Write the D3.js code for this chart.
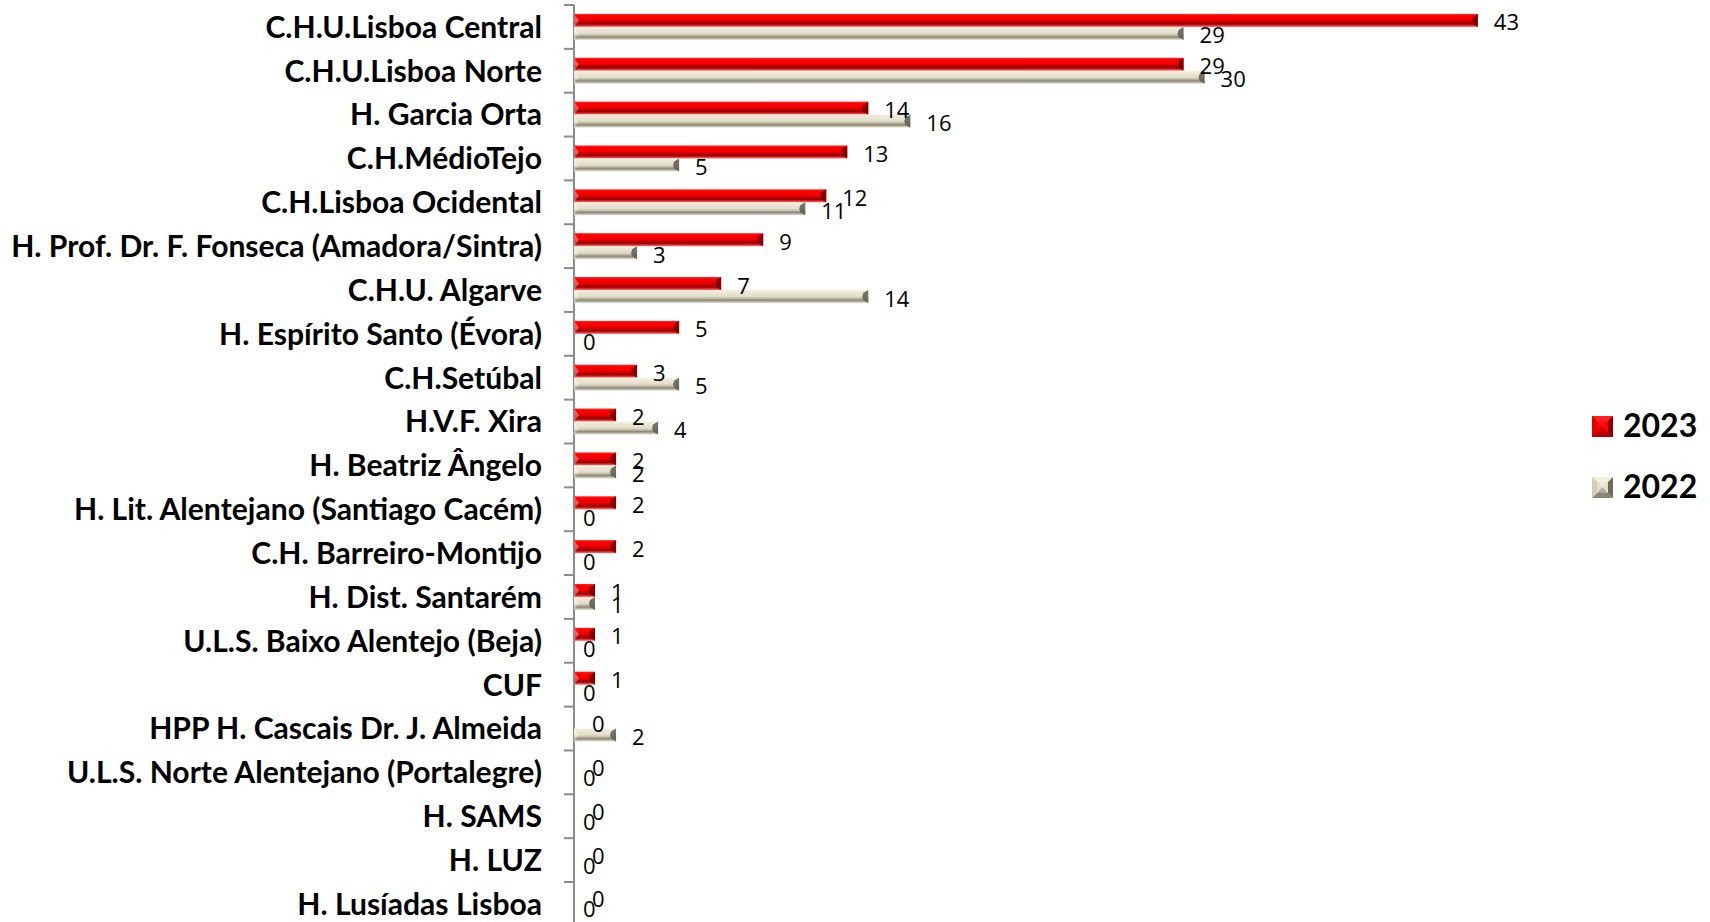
<!DOCTYPE html>
<html>
<head>
<meta charset="utf-8">
<script src="https://cdn.jsdelivr.net/npm/d3@7"></script>
<style>
  html, body { margin: 0; padding: 0; background: #fff; overflow: hidden; }
  svg { display: block; }
</style>
</head>
<body>
<svg id="chart" width="1710" height="922"></svg>
<script>
// ---- DATA ----
const categories = [
  "C.H.U.Lisboa Central",
  "C.H.U.Lisboa Norte",
  "H. Garcia Orta",
  "C.H.MédioTejo",
  "C.H.Lisboa Ocidental",
  "H. Prof. Dr. F. Fonseca (Amadora/Sintra)",
  "C.H.U. Algarve",
  "H. Espírito Santo (Évora)",
  "C.H.Setúbal",
  "H.V.F. Xira",
  "H. Beatriz Ângelo",
  "H. Lit. Alentejano (Santiago Cacém)",
  "C.H. Barreiro-Montijo",
  "H. Dist. Santarém",
  "U.L.S. Baixo Alentejo (Beja)",
  "CUF",
  "HPP H. Cascais Dr. J. Almeida",
  "U.L.S. Norte Alentejano (Portalegre)",
  "H. SAMS",
  "H. LUZ ",
  "H. Lusíadas Lisboa"
];
const seriesNames = ["2023", "2022"];
const values2023 = [43, 29, 14, 13, 12, 9, 7, 5, 3, 2, 2, 2, 2, 1, 1, 1, 0, 0, 0, 0, 0];
const values2022 = [29, 30, 16, 5, 11, 3, 14, 0, 5, 4, 2, 0, 0, 1, 0, 0, 2, 0, 0, 0, 0];

// ---- LAYOUT ----
const svg = d3.select("#chart");
const axisX = 574;
const plotTop = 5;
const step = 43.85;

const y = d3.scaleBand()
  .domain(categories)
  .range([plotTop, plotTop + step * categories.length])
  .padding(0);

const ySub = d3.scaleBand()
  .domain(seriesNames)
  .range([-13, 13])
  .padding(0);

const x = d3.scaleLinear()
  .domain([0, 45])
  .range([axisX, axisX + 45 * 21.02]);

const rows = categories.map((c, i) => ({ cat: c, vals: { "2023": values2023[i], "2022": values2022[i] } }));

// ---- GRADIENTS ----
const defs = svg.append("defs");
function vGrad(id, stops) {
  const g = defs.append("linearGradient").attr("id", id)
    .attr("x1", 0).attr("y1", 0).attr("x2", 0).attr("y2", 1);
  stops.forEach(s => g.append("stop").attr("offset", s[0]).attr("stop-color", s[1]));
}
vGrad("gRed", [["0%", "#ff2a2a"], ["15%", "#ff0000"], ["48%", "#f00000"], ["58%", "#c80000"], ["78%", "#9a0000"], ["88%", "#d82a2a"], ["100%", "#ff7070"]]);
vGrad("gGrey", [["0%", "#f3f0e2"], ["20%", "#ece8d6"], ["50%", "#e2ddc8"], ["62%", "#c6c1ab"], ["78%", "#8c8877"], ["90%", "#bdb9a7"], ["100%", "#e6e3d5"]]);

const fills = { "2023": "url(#gRed)", "2022": "url(#gGrey)" };
const capFill = { "2023": "#7a0000", "2022": "#5e5c50" };

// ---- AXIS ----
const yAxis = d3.axisLeft(y).tickSize(0).tickFormat("");
const axisG = svg.append("g").attr("transform", `translate(${axisX},0)`).call(yAxis);
axisG.select(".domain").remove();
axisG.append("line")
  .attr("x1", 0).attr("x2", 0).attr("y1", plotTop).attr("y2", 922)
  .attr("stroke", "#8c8c8c").attr("stroke-width", 2);
const boundaries = categories.map(c => y(c)).concat([y(categories[categories.length - 1]) + y.bandwidth()]);
axisG.selectAll("line.tb").data(boundaries).enter().append("line")
  .attr("class", "tb")
  .attr("x1", -10).attr("x2", 0)
  .attr("y1", d => d).attr("y2", d => d)
  .attr("stroke", "#8c8c8c").attr("stroke-width", 2);

// ---- CATEGORY LABELS ----
const labG = svg.append("g").attr("transform", "translate(542,0)");
const labels = labG.selectAll("text.cat").data(categories).enter().append("text")
  .attr("class", "cat")
  .attr("x", 0)
  .attr("y", d => y(d) + y.bandwidth() / 2 + 10)
  .attr("text-anchor", "end")
  .attr("font-family", "Lato, 'Open Sans', sans-serif")
  .attr("font-weight", 700)
  .attr("font-size", 28)
  .attr("fill", "#000")
  .text(d => d);
// size the face so the longest label spans the reference width
let maxW = 0;
labels.each(function () { maxW = Math.max(maxW, this.getComputedTextLength()); });
const fs = 28 * 531 / maxW;
labels.attr("font-size", fs).attr("y", d => y(d) + y.bandwidth() / 2 + fs * 0.36);

// ---- BARS ----
const groups = svg.append("g").selectAll("g.row").data(rows).enter().append("g")
  .attr("class", "row")
  .attr("transform", d => `translate(0,${y(d.cat) + y.bandwidth() / 2})`);

seriesNames.forEach(s => {
  const withBar = groups.filter(d => d.vals[s] > 0);
  withBar.append("rect")
    .attr("x", axisX)
    .attr("y", ySub(s))
    .attr("width", d => x(d.vals[s]) - axisX)
    .attr("height", ySub.bandwidth())
    .attr("fill", fills[s]);
  withBar.append("polygon")
    .attr("points", d => {
      const xe = x(d.vals[s]);
      const t = ySub(s), b = t + ySub.bandwidth(), m = (t + b) / 2;
      return `${xe},${t} ${xe},${b} ${xe - 5},${b - 3} ${xe - 6},${m} ${xe - 5},${t + 3}`;
    })
    .attr("fill", capFill[s]).attr("opacity", 0.85);
  withBar.append("polygon")
    .attr("points", d => {
      const t = ySub(s), b = t + ySub.bandwidth(), m = (t + b) / 2;
      return `${axisX},${t} ${axisX + 5},${m} ${axisX},${b}`;
    })
    .attr("fill", "#ffffff").attr("opacity", 0.35);
});

// ---- VALUE LABELS ----
seriesNames.forEach(s => {
  groups.append("text")
    .attr("x", d => d.vals[s] > 0 ? x(d.vals[s]) + 16 : (s === "2022" ? axisX + 9 : axisX + 18))
    .attr("y", d => {
      const c = ySub(s) + ySub.bandwidth() / 2 + 1;
      // both-zero rows: Excel stacks the two zeros a little tighter
      if (s === "2022" && d.vals["2022"] === 0 && d.vals["2023"] === 0) return c - 3;
      return c;
    })
    .attr("dominant-baseline", "central")
    .attr("font-family", "'Open Sans', sans-serif")
    .attr("font-size", 22)
    .attr("fill", "#000")
    .text(d => d.vals[s]);
});

// ---- LEGEND ----
const legend = svg.append("g");
const legendColors = {
  "2023": ["#ff2020", "#b00000", "#e00000", "#8a0000", "#ff0000"],
  "2022": ["#f2efe0", "#8a8676", "#d2cdb8", "#6e6b5e", "#e4e0cc"]
};
seriesNames.forEach((s, i) => {
  const lx = 1592, ly = 416 + i * 61, sz = 21, m = sz / 2, ins = 5;
  const g = legend.append("g").attr("transform", `translate(${lx},${ly})`);
  const c = legendColors[s];
  g.append("rect").attr("width", sz).attr("height", sz).attr("fill", c[4]);
  g.append("polygon").attr("points", `0,0 ${sz},0 ${sz - ins},${ins} ${ins},${ins}`).attr("fill", c[0]);
  g.append("polygon").attr("points", `0,${sz} ${sz},${sz} ${sz - ins},${sz - ins} ${ins},${sz - ins}`).attr("fill", c[1]);
  g.append("polygon").attr("points", `0,0 0,${sz} ${ins},${sz - ins} ${ins},${ins}`).attr("fill", c[2]);
  g.append("polygon").attr("points", `${sz},0 ${sz},${sz} ${sz - ins},${sz - ins} ${sz - ins},${ins}`).attr("fill", c[3]);
  g.append("polygon").attr("points", `${ins},${ins} ${sz - ins},${ins} ${m},${m}`).attr("fill", c[0]).attr("opacity", 0.6);
  g.append("polygon").attr("points", `${ins},${sz - ins} ${sz - ins},${sz - ins} ${m},${m}`).attr("fill", c[1]).attr("opacity", 0.6);
  legend.append("text")
    .attr("x", 1623).attr("y", ly + 21)
    .attr("font-family", "Lato, 'Open Sans', sans-serif")
    .attr("font-weight", 700)
    .attr("font-size", 32)
    .attr("fill", "#000")
    .text(s);
});
</script>
</body>
</html>
